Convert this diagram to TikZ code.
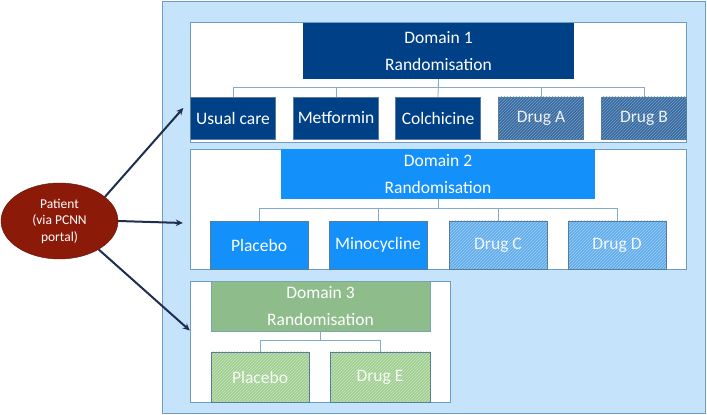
\documentclass[tikz,border=0pt]{standalone}
\usepackage{fontspec}
\setmainfont{Carlito}
\usetikzlibrary{arrows.meta, patterns, calc, shapes.geometric}
\definecolor{trialsky}{RGB}{197, 228, 251}
\definecolor{trialedge}{RGB}{110, 155, 195}
\definecolor{domnavy}{RGB}{0, 64, 135}
\definecolor{domblue}{RGB}{20, 144, 250}
\definecolor{domgreen}{RGB}{143, 188, 139}
\definecolor{hatchnavy}{RGB}{55, 105, 160}
\definecolor{hatchnavyline}{RGB}{120, 160, 200}
\definecolor{hatchblue}{RGB}{95, 172, 235}
\definecolor{hatchblueline}{RGB}{165, 208, 245}
\definecolor{hatchgreen}{RGB}{160, 206, 145}
\definecolor{hatchgreenline}{RGB}{200, 230, 190}
\definecolor{patientred}{RGB}{140, 26, 8}
\definecolor{arrownavy}{RGB}{30, 45, 80}

\begin{document}
\begin{tikzpicture}[
    x=1pt, y=1pt,
    base/.style={rectangle, inner sep=0pt, align=center, text=white, font=\fontsize{17.5pt}{27pt}\selectfont},
    panel/.style={rectangle, draw=trialedge, thin, fill=white, inner sep=0pt},
    header/.style={base},
    arm/.style={base, draw=trialedge!80!black, line width=0.4pt},
    hatched/.style={arm, preaction={fill=#1}, pattern=north east lines, pattern color=#1line, text=white!92!#1},
    link/.style={draw=trialedge!85!white, line width=0.8pt},
    arrow/.style={-{Stealth[length=7pt, width=6.5pt]}, line width=2pt, arrownavy}
]
    \useasboundingbox (0,0) rectangle (707,415);

    % --- TRIAL FRAME ---
    \node[rectangle, draw=trialedge, fill=trialsky, minimum width=543pt, minimum height=412pt] (trial) at (433.5, 207.5) {};

    % --- DOMAIN 1 ---
    \node[panel, minimum width=496pt, minimum height=120pt] (panelone) at (438, 333) {};
    \node[header, fill=domnavy, minimum width=271pt, minimum height=56pt] (domone) at (438.5, 364) {Domain 1\\Randomisation};

    \node[arm, fill=domnavy, minimum width=85pt, minimum height=42pt] (usual) at (233, 297) {Usual care};
    \node[arm, fill=domnavy, minimum width=85pt, minimum height=42pt] (metf) at (336, 297) {Metformin};
    \node[arm, fill=domnavy, minimum width=85pt, minimum height=42pt] (colch) at (438, 297) {Colchicine};
    \node[hatched=hatchnavy, minimum width=85pt, minimum height=42pt] (druga) at (541, 297) {Drug A};
    \node[hatched=hatchnavy, minimum width=85pt, minimum height=42pt] (drugb) at (644, 297) {Drug B};

    \draw[link] (domone.south) |- ([yshift=9pt]usual.north) -- (usual.north);
    \draw[link] (domone.south) |- ([yshift=9pt]metf.north) -- (metf.north);
    \draw[link] (domone.south) -- (colch.north);
    \draw[link] (domone.south) |- ([yshift=9pt]druga.north) -- (druga.north);
    \draw[link] (domone.south) |- ([yshift=9pt]drugb.north) -- (drugb.north);

    % --- DOMAIN 2 ---
    \node[panel, minimum width=496pt, minimum height=120pt] (paneltwo) at (438, 206) {};
    \node[header, fill=domblue, minimum width=314pt, minimum height=50pt] (domtwo) at (438, 241) {Domain 2\\Randomisation};

    \node[arm, fill=domblue, minimum width=98pt, minimum height=48pt] (placeboA) at (259, 170) {Placebo};
    \node[arm, fill=domblue, minimum width=98pt, minimum height=48pt] (mino) at (378, 170) {Minocycline};
    \node[hatched=hatchblue, minimum width=98pt, minimum height=48pt] (drugc) at (498, 170) {Drug C};
    \node[hatched=hatchblue, minimum width=98pt, minimum height=48pt] (drugd) at (617, 170) {Drug D};

    \draw[link] (domtwo.south) |- ([yshift=12pt]placeboA.north) -- (placeboA.north);
    \draw[link] (domtwo.south) |- ([yshift=12pt]mino.north) -- (mino.north);
    \draw[link] (domtwo.south) |- ([yshift=12pt]drugc.north) -- (drugc.north);
    \draw[link] (domtwo.south) |- ([yshift=12pt]drugd.north) -- (drugd.north);

    % --- DOMAIN 3 ---
    \node[panel, minimum width=260pt, minimum height=121pt] (panelthree) at (320, 73.5) {};
    \node[header, fill=domgreen, draw=trialedge!70!domgreen, minimum width=219pt, minimum height=50pt] (domthree) at (320.5, 109) {Domain 3\\Randomisation};

    \node[hatched=hatchgreen, minimum width=98pt, minimum height=50pt] (placeboB) at (260, 38) {Placebo};
    \node[hatched=hatchgreen, minimum width=100pt, minimum height=50pt] (druge) at (380, 38) {Drug E};

    \draw[link] (domthree.south) |- ([yshift=11pt]placeboB.north) -- (placeboB.north);
    \draw[link] (domthree.south) |- ([yshift=11pt]druge.north) -- (druge.north);

    % --- PATIENT ENTRY ---
    \node[ellipse, draw=patientred!70!black, fill=patientred, minimum width=117pt, minimum height=76pt, inner sep=0pt, align=center, text=white, font=\fontsize{13.5pt}{16.5pt}\selectfont] (patient) at (59.5, 194) {Patient\\(via PCNN\\portal)};

    \draw[arrow] (patient.28) -- ([xshift=-7pt, yshift=10pt]usual.west);
    \draw[arrow] (patient.east) -- ([xshift=-7pt, yshift=-14pt]paneltwo.west);
    \draw[arrow] (patient.-36) -- ([yshift=11pt]panelthree.west);

\end{tikzpicture}
\end{document}
